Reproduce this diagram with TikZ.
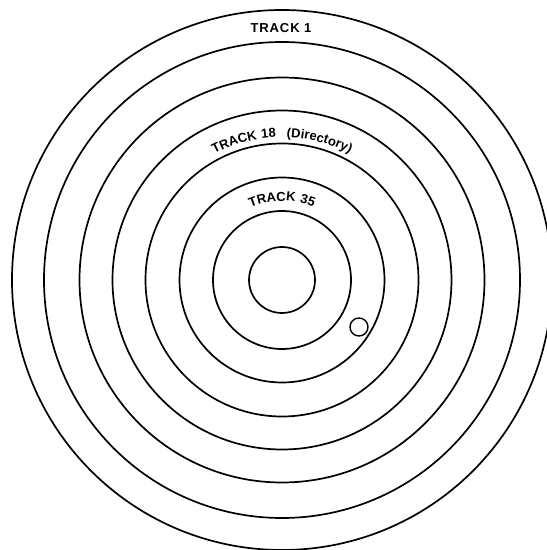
\documentclass[tikz,border=0pt]{standalone}
\usepackage{fontspec}
\newfontfamily\trk{Liberation Sans}[LetterSpace=7]
\usetikzlibrary{decorations.text}
\newcommand{\trkfont}{\trk\bfseries\fontsize{13}{15}\selectfont}
\begin{document}
\begin{tikzpicture}[x=1pt,y=1pt,
  track/.style={line width=1.7pt},
  lbl/.style={font=\trkfont, inner sep=0pt}]
\useasboundingbox (0,0) rectangle (547,550);
\clip (0,0) rectangle (547,550);
\coordinate (c) at (282,270);
\foreach \r in {270,238,202.5,169.5,136.5,102.5,69,33}
  \draw[track] (c) circle[radius=\r];
\node[draw, circle, line width=1.4pt, minimum size=18pt, inner sep=0pt] (head) at (359,223) {};
\node[lbl] (t1) at (281,522) {TRACK 1};
\path[decorate, decoration={text along path, text align=center,
  text={|\trkfont|TRACK 18{\kern6pt} (Directory)}}]
  ([shift={(150:143)}]c) arc[start angle=150, end angle=30, radius=143];
\path[decorate, decoration={text along path, text align=center,
  text={|\trkfont|TRACK 35}}]
  ([shift={(150:79)}]c) arc[start angle=150, end angle=30, radius=79];
\end{tikzpicture}
\end{document}
